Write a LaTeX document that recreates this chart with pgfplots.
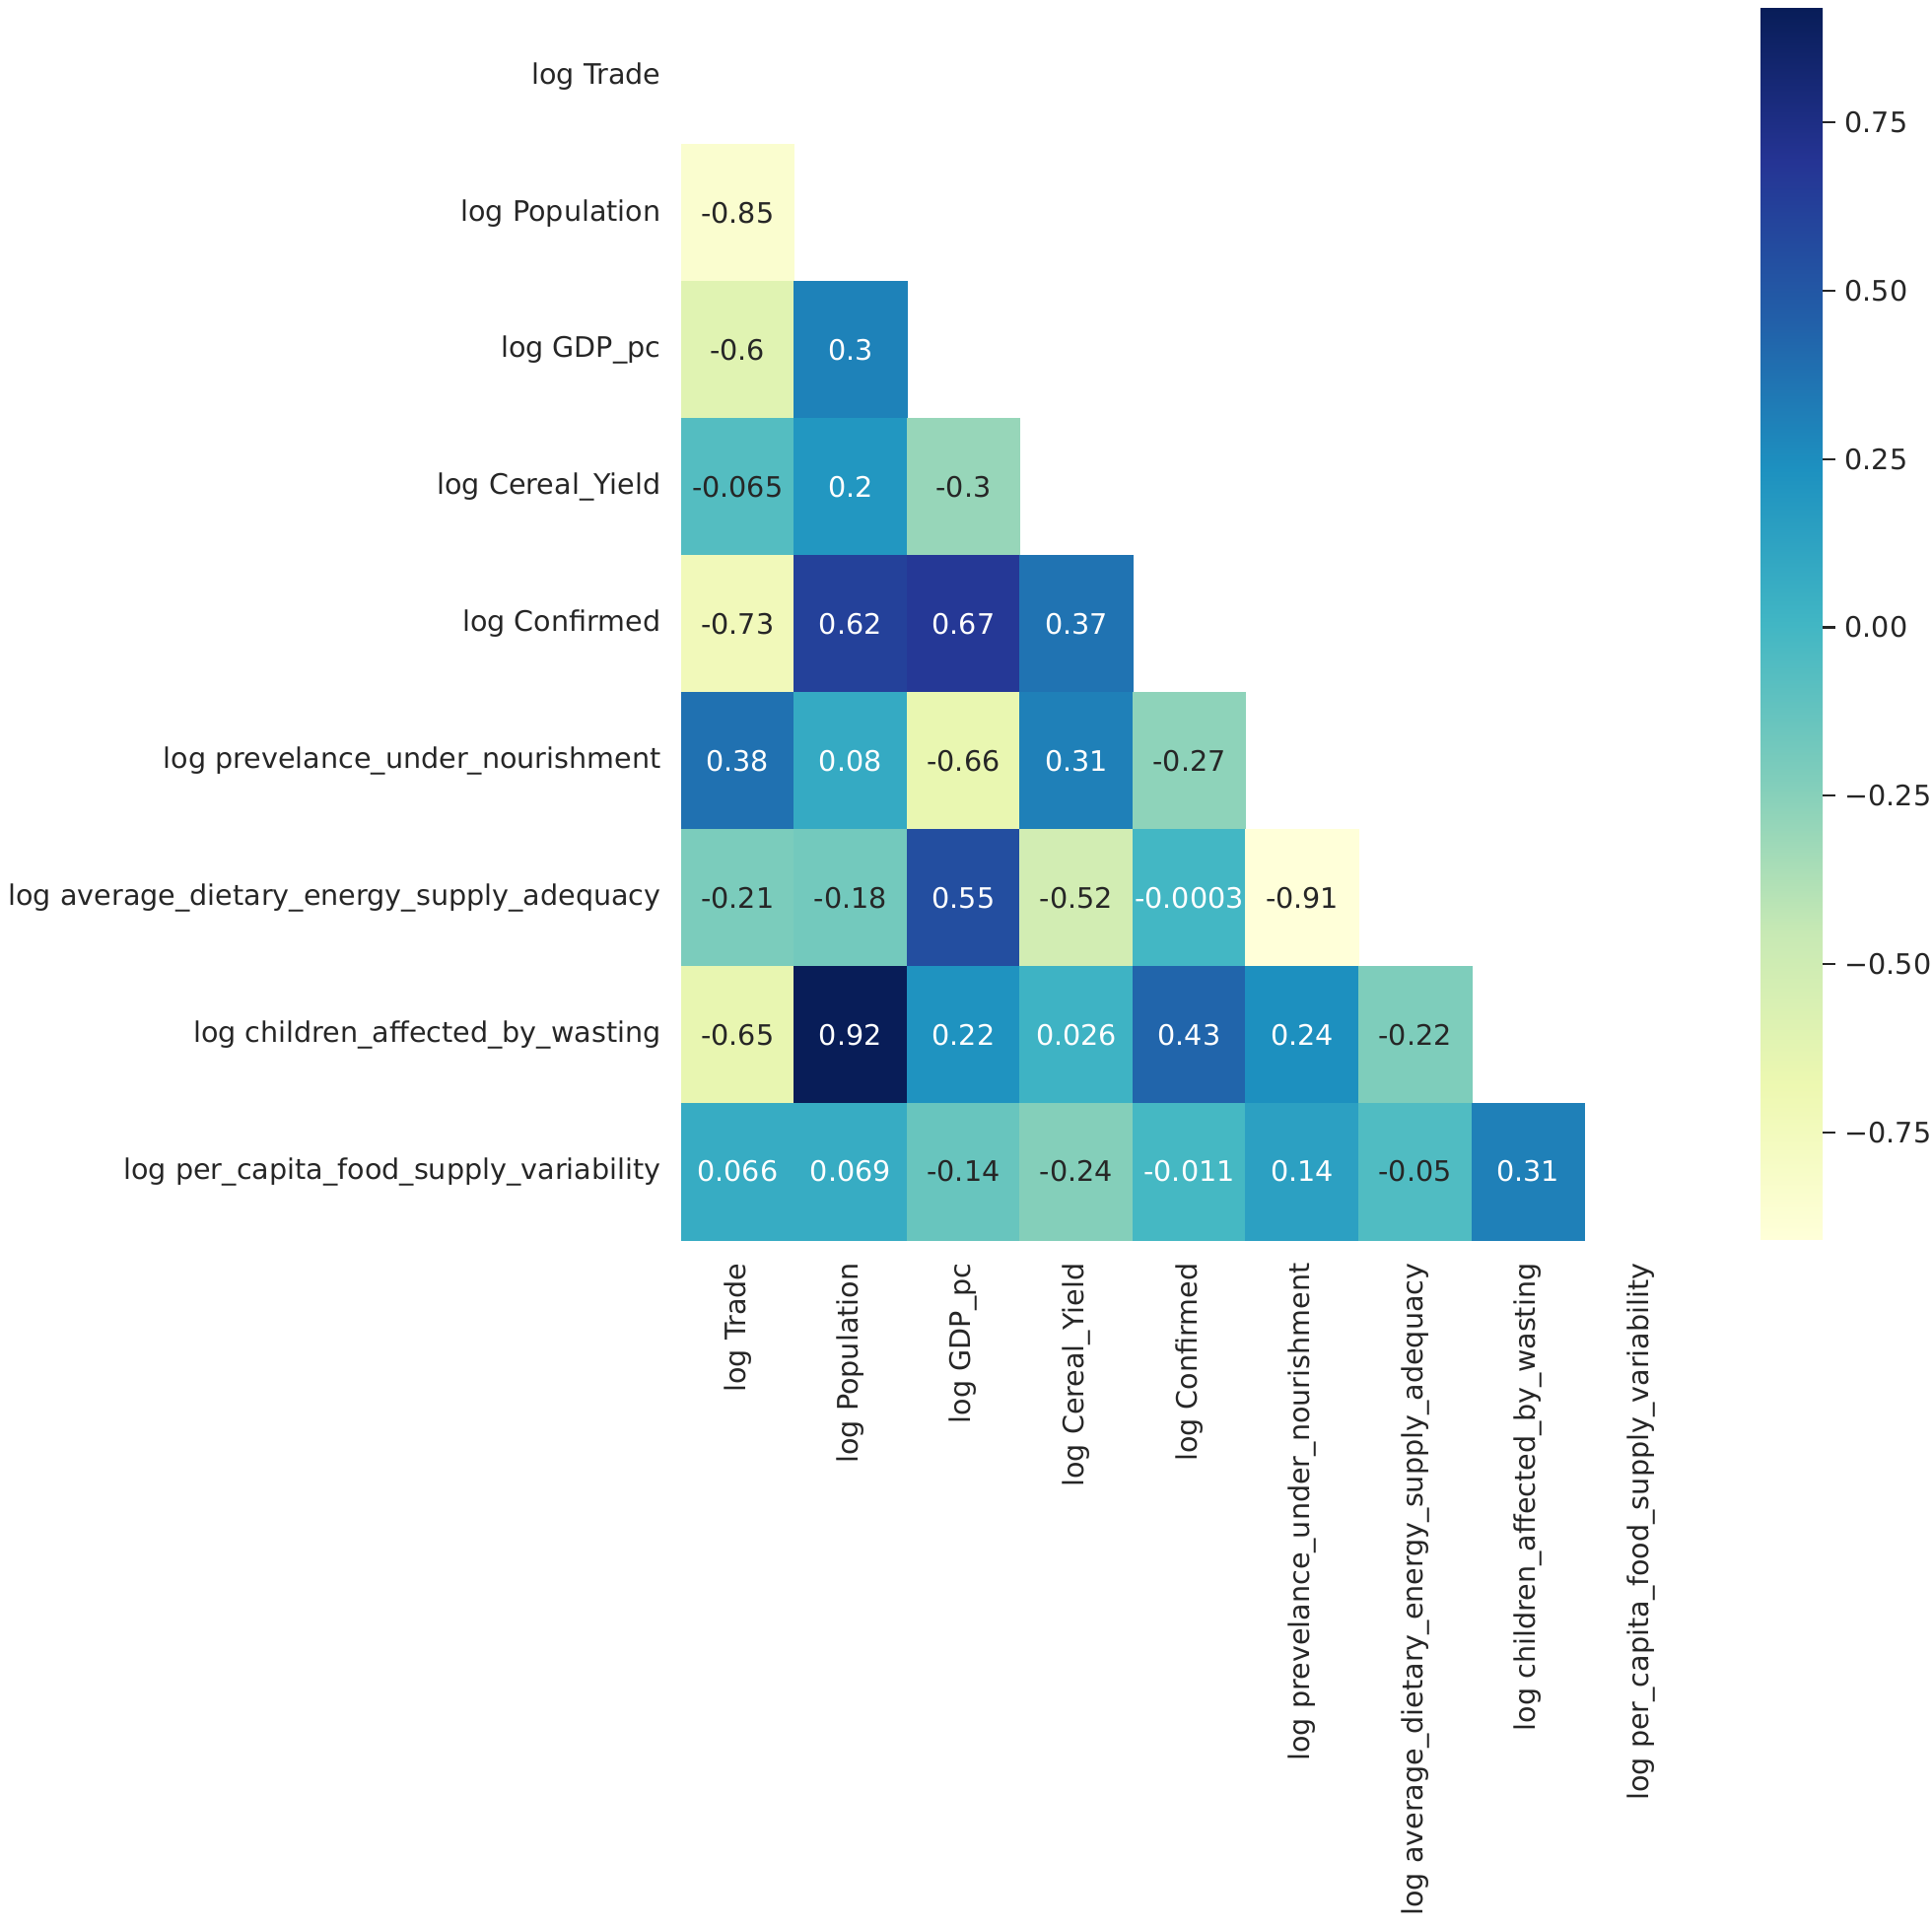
\documentclass[border=0pt]{standalone}
\usepackage{pgfplots}
\usepackage{pgfplotstable}
\pgfplotsset{compat=1.18}
\usepackage{fontspec}
\setmainfont{DejaVu Sans}
\definecolor{dk}{gray}{0.15}
\newcommand{\fs}{\fontsize{10.3pt}{12pt}\selectfont}
\pgfplotstableread{
x y c
0 1 -0.85
0 2 -0.6
1 2 0.3
0 3 -0.065
1 3 0.2
2 3 -0.3
0 4 -0.73
1 4 0.62
2 4 0.67
3 4 0.37
0 5 0.38
1 5 0.08
2 5 -0.66
3 5 0.31
4 5 -0.27
0 6 -0.21
1 6 -0.18
2 6 0.55
3 6 -0.52
4 6 -0.0003
5 6 -0.91
0 7 -0.65
1 7 0.92
2 7 0.22
3 7 0.026
4 7 0.43
5 7 0.24
6 7 -0.22
0 8 0.066
1 8 0.069
2 8 -0.14
3 8 -0.24
4 8 -0.011
5 8 0.14
6 8 -0.05
7 8 0.31
}\corr
\pgfplotstableread{
x y lab
1 2 0.3
1 3 0.2
1 4 0.62
2 4 0.67
3 4 0.37
0 5 0.38
1 5 0.08
3 5 0.31
2 6 0.55
4 6 -0.0003
1 7 0.92
2 7 0.22
3 7 0.026
4 7 0.43
5 7 0.24
0 8 0.066
1 8 0.069
4 8 -0.011
5 8 0.14
7 8 0.31
}\labw
\pgfplotstableread{
x y lab
0 1 -0.85
0 2 -0.6
0 3 -0.065
2 3 -0.3
0 4 -0.73
2 5 -0.66
4 5 -0.27
0 6 -0.21
1 6 -0.18
3 6 -0.52
5 6 -0.91
0 7 -0.65
6 7 -0.22
2 8 -0.14
3 8 -0.24
6 8 -0.05
}\labd
\begin{document}
\begin{tikzpicture}
\useasboundingbox (-248.76pt,-250.92pt) rectangle (456.84pt,452.88pt);
\begin{axis}[
  at={(0,0)}, anchor=south west,
  scale only axis, width=371.2pt, height=450pt,
  xmin=-0.5, xmax=8.5, ymin=-0.5, ymax=8.5, y dir=reverse,
  axis line style={draw=none},
  major tick length=0pt,
  xtick={0,...,8}, ytick={0,...,8},
  xticklabels={log Trade,log Population,log GDP\_pc,log Cereal\_Yield,log Confirmed,log prevelance\_under\_nourishment,log average\_dietary\_energy\_supply\_adequacy,log children\_affected\_by\_wasting,log per\_capita\_food\_supply\_variability},
  yticklabels={log Trade,log Population,log GDP\_pc,log Cereal\_Yield,log Confirmed,log prevelance\_under\_nourishment,log average\_dietary\_energy\_supply\_adequacy,log children\_affected\_by\_wasting,log per\_capita\_food\_supply\_variability},
  xticklabel style={rotate=90, anchor=east, inner sep=0pt, font=\fs, text=dk},
  yticklabel style={anchor=east, inner sep=0pt, font=\fs, text=dk},
  xticklabel shift=8.3pt, yticklabel shift=7.2pt,
  colormap={ylgnbu}{rgb255=(255,255,217) rgb255=(237,248,177) rgb255=(199,233,180) rgb255=(127,205,187) rgb255=(65,182,196) rgb255=(29,145,192) rgb255=(34,94,168) rgb255=(37,52,148) rgb255=(8,29,88)},
  point meta min=-0.91, point meta max=0.92,
  colorbar,
  colorbar/width=22.68pt,
  colorbar style={
    at={(parent axis.north east)}, anchor=north west, xshift=14.5pt,
    scale only axis, height=450pt,
    axis line style={draw=none},
    ytick={-0.75,-0.5,-0.25,0,0.25,0.5,0.75},
    yticklabels={−0.75,−0.50,−0.25,0.00,0.25,0.50,0.75},
    ytick pos=right,
    tick align=outside, major tick length=4.5pt,
    ytick style={draw=dk, line width=0.8pt},
    yticklabel style={font=\fs, text=dk, anchor=west, inner sep=0pt},
    yticklabel shift=3.4pt,
  },
  clip=false,
]
\addplot[scatter, only marks, mark=square*, mark size=20.62pt,
  mark options={yscale=1.2124, line width=0.3pt},
  scatter/use mapped color={draw=mapped color, fill=mapped color},
  point meta=explicit] table[x=x, y=y, meta=c] {\corr};
\addplot[only marks, mark=none, point meta=explicit symbolic,
  nodes near coords,
  nodes near coords style={anchor=center, inner sep=0pt, font=\fs, text=white}] table[x=x, y=y, meta=lab] {\labw};
\addplot[only marks, mark=none, point meta=explicit symbolic,
  nodes near coords,
  nodes near coords style={anchor=center, inner sep=0pt, font=\fs, text=dk}] table[x=x, y=y, meta=lab] {\labd};
\end{axis}
\end{tikzpicture}
\end{document}
